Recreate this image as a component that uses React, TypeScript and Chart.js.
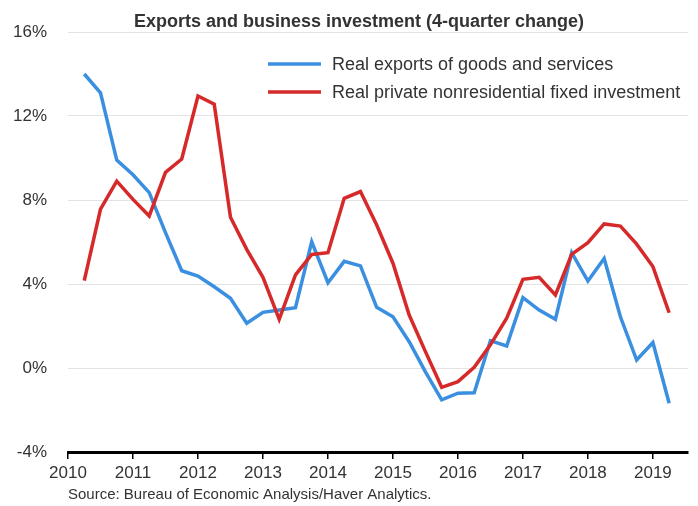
import React, { useEffect, useRef } from "react";
import { Chart, registerables } from "chart.js";

Chart.register(...registerables);

const quarters = [
  "2010Q2", "2010Q3", "2010Q4",
  "2011Q1", "2011Q2", "2011Q3", "2011Q4",
  "2012Q1", "2012Q2", "2012Q3", "2012Q4",
  "2013Q1", "2013Q2", "2013Q3", "2013Q4",
  "2014Q1", "2014Q2", "2014Q3", "2014Q4",
  "2015Q1", "2015Q2", "2015Q3", "2015Q4",
  "2016Q1", "2016Q2", "2016Q3", "2016Q4",
  "2017Q1", "2017Q2", "2017Q3", "2017Q4",
  "2018Q1", "2018Q2", "2018Q3", "2018Q4",
  "2019Q1", "2019Q2",
];

const exportsGrowth = [
  14.0, 13.1, 9.9,
  9.2, 8.35, 6.45, 4.63,
  4.38, 3.87, 3.32, 2.13,
  2.65, 2.76, 2.87, 6.01,
  4.06, 5.08, 4.86, 2.89,
  2.44, 1.25, -0.18, -1.52,
  -1.2, -1.18, 1.3, 1.05,
  3.35, 2.76, 2.32, 5.49,
  4.14, 5.21, 2.44, 0.38,
  1.21, -1.68,
];

const investmentGrowth = [
  4.16, 7.56, 8.9,
  8.03, 7.24, 9.32, 9.95,
  12.95, 12.56, 7.18, 5.65,
  4.32, 2.32, 4.43, 5.41,
  5.49, 8.08, 8.4, 6.81,
  4.99, 2.52, 0.78, -0.92,
  -0.65, 0.03, 1.1, 2.37,
  4.22, 4.32, 3.48, 5.41,
  5.97, 6.86, 6.76, 5.9,
  4.83, 2.63,
];

const yTicks = [-4, 0, 4, 8, 12, 16];
const xYears = [2010, 2011, 2012, 2013, 2014, 2015, 2016, 2017, 2018, 2019];

const seriesNames = [
  "Real exports of goods and services",
  "Real private nonresidential fixed investment",
];
const seriesColors = ["#3a8fe0", "#d62a2a"];

const titleText = "Exports and business investment (4-quarter change)";
const sourceText = "Source: Bureau of Economic Analysis/Haver Analytics.";

const FONT = "'Liberation Sans', Arial, sans-serif";
const TEXT = "#333333";

function quarterToX(q: string): number {
  const year = parseInt(q.slice(0, 4), 10);
  const qi = parseInt(q.slice(5), 10);
  return year + (qi - 1) / 4;
}

const decorPlugin = {
  id: "decor",
  afterDraw(chart: any) {
    const ctx = chart.ctx as CanvasRenderingContext2D;
    const area = chart.chartArea;
    ctx.save();
    // title
    ctx.fillStyle = TEXT;
    ctx.font = `bold 18px ${FONT}`;
    ctx.textAlign = "center";
    ctx.textBaseline = "alphabetic";
    ctx.fillText(titleText, 359, 27);
    // legend
    const legendX = 268;
    const legendYs = [64, 92];
    chart.data.datasets.forEach((ds: any, i: number) => {
      const y = legendYs[i];
      ctx.strokeStyle = ds.borderColor;
      ctx.lineWidth = 3.5;
      ctx.beginPath();
      ctx.moveTo(legendX, y);
      ctx.lineTo(legendX + 53, y);
      ctx.stroke();
      ctx.fillStyle = TEXT;
      ctx.font = `18px ${FONT}`;
      ctx.textAlign = "left";
      ctx.textBaseline = "middle";
      ctx.fillText(ds.label, legendX + 64, y + 1);
    });
    // source
    ctx.font = `15px ${FONT}`;
    ctx.textAlign = "left";
    ctx.textBaseline = "alphabetic";
    ctx.fillStyle = TEXT;
    ctx.fillText(sourceText, area.left, 499);
    ctx.restore();
  },
};

export default function App() {
  const canvasRef = useRef<HTMLCanvasElement | null>(null);

  useEffect(() => {
    if (!canvasRef.current) return;
    const xs = quarters.map(quarterToX);
    const chart = new Chart(canvasRef.current, {
      type: "line",
      data: {
        datasets: [
          {
            label: seriesNames[0],
            data: xs.map((x, i) => ({ x, y: exportsGrowth[i] })),
            borderColor: seriesColors[0],
            backgroundColor: seriesColors[0],
            borderWidth: 3.5,
            pointRadius: 0,
            tension: 0,
            order: 2,
          },
          {
            label: seriesNames[1],
            data: xs.map((x, i) => ({ x, y: investmentGrowth[i] })),
            borderColor: seriesColors[1],
            backgroundColor: seriesColors[1],
            borderWidth: 3.5,
            pointRadius: 0,
            tension: 0,
            order: 1,
          },
        ],
      },
      options: {
        animation: false,
        responsive: false,
        maintainAspectRatio: false,
        layout: { padding: { top: 32, right: 10, bottom: 0, left: 0 } },
        plugins: {
          legend: { display: false },
          title: { display: false },
          tooltip: { enabled: false },
        },
        scales: {
          x: {
            type: "linear",
            min: 2010,
            max: 2019.54,
            afterFit: (s: any) => {
              s.height = 54;
            },
            afterBuildTicks: (s: any) => {
              s.ticks = xYears.map((v) => ({ value: v }));
            },
            ticks: {
              includeBounds: false,
              stepSize: 1,
              autoSkip: false,
              maxRotation: 0,
              color: TEXT,
              font: { family: FONT, size: 17 },
              padding: 4,
              callback: (v: any) => String(v),
            },
            grid: {
              drawOnChartArea: false,
              drawTicks: true,
              tickLength: 7,
              color: "#000000",
              lineWidth: 1.5,
            },
            border: { display: true, color: "#000000", width: 3 },
          },
          y: {
            min: -4,
            max: 16,
            afterFit: (s: any) => {
              s.width = 68;
            },
            afterBuildTicks: (s: any) => {
              s.ticks = yTicks.map((v) => ({ value: v }));
            },
            ticks: {
              color: TEXT,
              font: { family: FONT, size: 17 },
              padding: 21,
              callback: (v: any) => `${v}%`,
            },
            grid: {
              drawTicks: false,
              color: "#e3e3e3",
              lineWidth: 1,
            },
            border: { display: false },
          },
        },
      },
      plugins: [decorPlugin],
    });
    return () => chart.destroy();
  }, []);

  return (
    <div style={{ position: "absolute", left: 0, top: 0, width: 698, height: 506, background: "#fff" }}>
      <canvas ref={canvasRef} width={698} height={506} style={{ width: 698, height: 506, display: "block" }} />
    </div>
  );
}
